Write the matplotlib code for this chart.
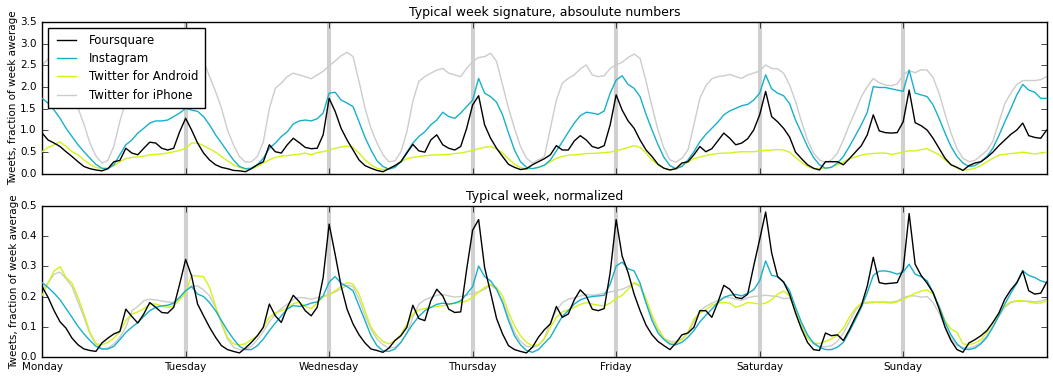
import matplotlib
matplotlib.use("Agg")
import matplotlib.pyplot as plt
import numpy as np

plt.style.use("classic")

days = ["Monday", "Tuesday", "Wednesday", "Thursday", "Friday", "Saturday", "Sunday"]
hours = np.arange(0, 169)

top_foursquare = [
    0.94,0.78,0.71,0.63,0.51,0.40,0.28,0.17,0.12,0.09,0.07,0.12,0.28,0.31,0.59,0.48,0.44,0.59,0.73,0.71,0.59,0.55,0.59,0.97,
    1.28,1.01,0.71,0.48,0.32,0.21,0.15,0.12,0.08,0.07,0.05,0.12,0.21,0.28,0.67,0.51,0.48,0.67,0.82,0.72,
    0.61,0.58,0.59,0.90,1.74,1.44,1.05,0.78,0.55,0.32,0.19,0.13,0.08,0.05,0.12,0.19,0.28,0.48,0.68,0.53,0.50,0.78,0.90,0.67,0.59,0.55,0.63,1.05,
    1.59,1.80,1.13,0.82,0.59,0.40,0.22,0.15,0.10,0.12,0.21,0.28,
    0.35,0.44,0.65,0.55,0.55,0.76,0.88,0.78,0.63,0.59,0.65,1.13,1.82,1.47,1.22,1.05,0.78,0.55,0.40,0.22,0.13,0.09,0.12,0.25,
    0.28,0.44,0.63,0.51,0.58,0.76,0.94,0.82,0.67,0.71,0.81,1.01,1.36,1.90,1.32,1.20,1.05,
    0.85,0.50,0.35,0.21,0.13,0.09,0.28,0.28,0.28,0.21,0.35,0.50,0.65,0.90,1.36,0.99,0.95,0.94,0.95,1.20,1.93,1.18,1.11,1.01,0.82,
    0.59,0.36,0.21,0.15,0.08,0.19,0.25,0.28,0.38,0.50,0.65,0.78,0.91,1.01,1.17,0.88,0.84,0.82,1.01]
top_instagram = [
    1.74,1.63,1.47,1.28,1.05,0.86,0.67,0.51,0.36,0.22,0.13,0.12,0.21,0.44,0.67,0.78,0.94,1.05,1.17,1.22,1.22,1.24,1.32,1.40,
    1.51,1.47,1.44,1.32,1.13,0.90,0.71,0.51,0.32,0.17,0.12,0.13,0.21,0.36,0.59,0.71,0.86,0.97,1.15,1.22,
    1.24,1.22,1.27,1.40,1.86,1.88,1.70,1.63,1.55,1.20,0.84,0.55,0.30,0.17,0.11,0.15,0.28,0.50,0.71,0.86,0.97,1.13,1.24,1.42,1.32,1.28,1.40,1.55,
    1.70,2.20,1.86,1.78,1.65,1.36,0.94,0.55,0.28,0.15,0.12,0.15,
    0.20,0.32,0.53,0.74,0.96,1.17,1.34,1.42,1.40,1.37,1.45,1.86,2.16,2.26,2.06,1.97,1.78,1.37,1.01,0.67,0.38,0.19,0.12,0.17,
    0.32,0.51,0.74,0.91,1.05,1.19,1.36,1.45,1.51,1.57,1.60,1.70,1.86,2.28,1.96,1.86,1.80,
    1.62,1.24,0.94,0.63,0.38,0.21,0.13,0.15,0.25,0.40,0.63,0.88,1.13,1.42,2.01,1.99,1.99,1.96,1.93,1.90,2.39,1.86,1.82,1.78,1.59,
    1.28,0.94,0.63,0.40,0.25,0.17,0.19,0.28,0.40,0.59,0.88,1.20,1.50,1.82,2.06,1.93,1.88,1.74,1.74]
top_android = [
    0.51,0.61,0.67,0.74,0.63,0.51,0.44,0.32,0.22,0.15,0.12,0.13,0.19,0.28,0.35,0.38,0.39,0.41,0.44,0.45,0.46,0.48,0.51,0.54,
    0.59,0.71,0.71,0.65,0.58,0.50,0.40,0.30,0.21,0.15,0.11,0.12,0.17,0.25,0.32,0.38,0.41,0.42,0.44,0.45,
    0.48,0.44,0.49,0.51,0.55,0.59,0.62,0.64,0.61,0.48,0.32,0.21,0.13,0.10,0.12,0.19,0.28,0.35,0.38,0.40,0.42,0.43,0.44,0.44,0.45,0.47,0.48,0.51,
    0.54,0.58,0.61,0.63,0.58,0.48,0.35,0.22,0.15,0.11,0.12,0.15,
    0.20,0.28,0.36,0.40,0.43,0.44,0.45,0.47,0.47,0.48,0.49,0.50,0.53,0.57,0.61,0.65,0.61,0.48,0.32,0.21,0.13,0.09,0.12,0.19,
    0.27,0.35,0.39,0.42,0.45,0.47,0.48,0.48,0.50,0.51,0.51,0.51,0.53,0.54,0.55,0.56,0.55,
    0.50,0.38,0.27,0.17,0.12,0.12,0.13,0.16,0.21,0.27,0.35,0.39,0.43,0.46,0.47,0.48,0.48,0.45,0.47,0.51,0.53,0.53,0.56,0.58,0.51,
    0.44,0.32,0.21,0.13,0.09,0.10,0.13,0.19,0.28,0.36,0.43,0.45,0.47,0.48,0.50,0.48,0.46,0.48,0.50]
top_iphone = [
    2.50,2.65,2.80,2.75,2.40,1.95,1.52,1.14,0.71,0.41,0.25,0.31,0.64,1.21,1.67,1.95,2.05,2.10,2.15,2.20,2.20,2.25,2.30,2.40,
    2.50,2.62,2.72,2.60,2.24,1.90,1.51,1.01,0.67,0.40,0.27,0.28,0.40,0.74,1.51,1.97,2.09,2.24,2.32,2.28,
    2.24,2.19,2.28,2.36,2.49,2.60,2.72,2.80,2.70,2.13,1.51,1.05,0.71,0.44,0.28,0.30,0.51,0.97,1.67,2.13,2.24,2.32,2.39,2.43,2.32,2.28,2.24,2.43,
    2.59,2.68,2.70,2.78,2.59,2.05,1.51,1.05,0.63,0.36,0.25,0.32,
    0.40,1.05,1.70,2.09,2.20,2.28,2.42,2.51,2.28,2.24,2.26,2.43,2.51,2.57,2.68,2.76,2.66,2.13,1.55,1.01,0.59,0.32,0.27,0.36,
    0.55,1.13,1.74,2.03,2.19,2.24,2.26,2.29,2.24,2.20,2.28,2.32,2.37,2.51,2.43,2.42,2.32,
    2.05,1.67,1.20,0.78,0.48,0.32,0.26,0.32,0.48,0.78,1.13,1.44,1.78,2.01,2.20,2.10,2.05,2.03,2.07,2.28,2.38,2.33,2.40,2.39,2.22,
    1.86,1.38,0.94,0.58,0.36,0.28,0.31,0.42,0.54,0.75,1.19,1.62,1.86,2.06,2.15,2.15,2.15,2.17,2.24]

bot_foursquare = [
    0.233,0.197,0.153,0.116,0.095,0.062,0.040,0.026,0.021,0.018,0.046,0.062,0.076,0.084,0.158,0.134,0.112,0.142,0.180,0.164,0.147,0.145,0.164,0.241,
    0.323,0.268,0.175,0.136,0.098,0.065,0.037,0.024,0.018,0.013,0.029,0.048,0.070,0.098,0.175,0.136,0.114,0.164,0.204,0.183,
    0.153,0.136,0.164,0.263,0.440,0.340,0.235,0.158,0.109,0.073,0.046,0.026,0.021,0.015,0.029,0.054,0.070,0.098,0.171,0.127,0.120,0.186,0.224,0.202,0.158,0.147,0.149,0.290,
    0.420,0.455,0.296,0.213,0.127,0.076,0.037,0.024,0.018,0.013,0.032,0.065,
    0.090,0.109,0.167,0.131,0.142,0.189,0.222,0.202,0.158,0.153,0.160,0.279,0.455,0.334,0.279,0.208,0.153,0.105,0.073,0.051,0.037,0.024,0.046,0.073,
    0.079,0.098,0.153,0.153,0.131,0.180,0.237,0.224,0.197,0.193,0.208,0.301,0.389,0.480,0.345,0.266,0.248,
    0.207,0.145,0.092,0.048,0.024,0.021,0.079,0.070,0.073,0.054,0.090,0.131,0.169,0.235,0.330,0.246,0.242,0.244,0.246,0.290,0.475,0.307,0.270,0.244,0.213,
    0.160,0.098,0.054,0.024,0.015,0.046,0.057,0.070,0.087,0.114,0.145,0.191,0.222,0.246,0.285,0.219,0.208,0.211,0.248]
bot_instagram = [
    0.246,0.230,0.211,0.189,0.160,0.131,0.101,0.076,0.054,0.035,0.026,0.026,0.035,0.057,0.081,0.098,0.114,0.134,0.153,0.164,0.169,0.171,0.178,0.197,
    0.219,0.233,0.208,0.200,0.180,0.153,0.120,0.087,0.059,0.035,0.024,0.024,0.037,0.059,0.087,0.112,0.136,0.158,0.170,0.167,
    0.171,0.178,0.182,0.202,0.248,0.266,0.244,0.233,0.219,0.169,0.120,0.070,0.037,0.020,0.018,0.026,0.048,0.079,0.109,0.134,0.153,0.164,0.174,0.178,0.175,0.178,0.186,0.208,
    0.233,0.301,0.266,0.252,0.224,0.180,0.120,0.070,0.040,0.021,0.015,0.024,
    0.045,0.065,0.101,0.134,0.153,0.175,0.189,0.196,0.200,0.202,0.204,0.241,0.301,0.314,0.292,0.285,0.244,0.178,0.120,0.079,0.057,0.042,0.040,0.048,
    0.065,0.087,0.116,0.138,0.158,0.180,0.197,0.204,0.207,0.202,0.211,0.222,0.252,0.318,0.270,0.266,0.248,
    0.220,0.164,0.114,0.073,0.046,0.032,0.024,0.024,0.032,0.048,0.084,0.123,0.164,0.213,0.270,0.284,0.285,0.281,0.274,0.281,0.307,0.274,0.266,0.252,0.213,
    0.167,0.114,0.073,0.043,0.026,0.024,0.029,0.043,0.065,0.098,0.136,0.175,0.211,0.244,0.285,0.270,0.263,0.252,0.246]
bot_android = [
    0.204,0.244,0.285,0.299,0.263,0.244,0.197,0.142,0.081,0.043,0.040,0.048,0.062,0.084,0.120,0.142,0.149,0.160,0.174,0.175,0.169,0.164,0.169,0.189,
    0.211,0.270,0.268,0.266,0.230,0.169,0.114,0.065,0.043,0.040,0.043,0.057,0.070,0.098,0.131,0.145,0.153,0.160,0.177,0.181,
    0.167,0.160,0.178,0.200,0.204,0.219,0.233,0.246,0.241,0.208,0.153,0.098,0.070,0.051,0.043,0.054,0.073,0.109,0.142,0.156,0.160,0.164,0.167,0.169,0.174,0.178,0.180,0.185,
    0.197,0.215,0.230,0.240,0.230,0.202,0.147,0.103,0.070,0.048,0.037,0.040,
    0.060,0.098,0.131,0.149,0.156,0.164,0.174,0.180,0.175,0.171,0.169,0.178,0.193,0.204,0.224,0.246,0.237,0.193,0.138,0.095,0.062,0.045,0.046,0.057,
    0.081,0.125,0.145,0.156,0.171,0.178,0.180,0.178,0.164,0.171,0.180,0.178,0.175,0.178,0.189,0.208,0.218,
    0.202,0.153,0.098,0.062,0.046,0.044,0.051,0.059,0.073,0.095,0.131,0.160,0.178,0.178,0.180,0.182,0.180,0.178,0.182,0.191,0.200,0.211,0.218,0.222,0.208,
    0.169,0.120,0.092,0.081,0.043,0.040,0.046,0.057,0.081,0.112,0.145,0.169,0.182,0.186,0.186,0.182,0.178,0.178,0.186]
bot_iphone = [
    0.222,0.246,0.274,0.281,0.259,0.233,0.182,0.131,0.076,0.043,0.026,0.029,0.043,0.065,0.098,0.153,0.167,0.186,0.191,0.189,0.185,0.182,0.180,0.197,
    0.222,0.235,0.235,0.222,0.202,0.164,0.109,0.059,0.032,0.024,0.024,0.035,0.057,0.084,0.116,0.142,0.160,0.174,0.190,0.197,
    0.195,0.191,0.196,0.200,0.209,0.215,0.226,0.237,0.233,0.191,0.136,0.092,0.059,0.040,0.029,0.032,0.048,0.079,0.131,0.175,0.189,0.197,0.204,0.207,0.202,0.198,0.200,0.204,
    0.211,0.215,0.224,0.237,0.224,0.186,0.131,0.081,0.051,0.035,0.031,0.037,
    0.062,0.114,0.153,0.180,0.191,0.196,0.202,0.207,0.204,0.207,0.211,0.215,0.220,0.224,0.233,0.244,0.233,0.182,0.131,0.087,0.062,0.051,0.051,0.059,
    0.079,0.116,0.153,0.167,0.178,0.186,0.196,0.197,0.191,0.187,0.196,0.200,0.202,0.204,0.202,0.200,0.193,
    0.195,0.158,0.105,0.065,0.043,0.035,0.033,0.037,0.051,0.079,0.116,0.153,0.175,0.181,0.182,0.180,0.182,0.181,0.185,0.196,0.202,0.202,0.198,0.200,0.180,
    0.145,0.101,0.062,0.037,0.031,0.029,0.035,0.048,0.070,0.101,0.134,0.164,0.180,0.185,0.184,0.185,0.182,0.185,0.191]

names = ["Foursquare", "Instagram", "Twitter for Android", "Twitter for iPhone"]
colors = ["black", "#17b0cc", "#d4f21a", "#cccccc"]
zorders = [5, 4, 3, 2]

fig = plt.figure(figsize=(10.53, 3.78), dpi=100, facecolor="white")
ax1 = fig.add_axes([0.040, 0.540, 0.954, 0.402])
ax2 = fig.add_axes([0.040, 0.056, 0.954, 0.399])

x = hours / 24.0
for ax, series in ((ax1, [top_foursquare, top_instagram, top_android, top_iphone]),
                   (ax2, [bot_foursquare, bot_instagram, bot_android, bot_iphone])):
    ax.set_facecolor("white")
    for d in range(1, 7):
        ax.axvline(d, color="#d0d0d0", lw=3, zorder=1)
    for s, n, c, z in zip(series, names, colors, zorders):
        ax.plot(x, s, color=c, lw=1.0, label=n, zorder=z)
    ax.set_xlim(0, 7)
    ax.set_xticks(range(7))
    ax.tick_params(labelsize=7.5, direction="in")
    ax.set_ylabel("Tweets, fraction of week awerage", fontsize=7.5, labelpad=1)

ax1.set_ylim(0, 3.5)
ax1.set_yticks(np.arange(0, 3.51, 0.5))
ax1.set_xticklabels([])
ax1.set_title("Typical week signature, absoulute numbers", fontsize=9, pad=4)
ax1.legend(loc="upper left", fontsize=8.5, frameon=True, fancybox=False,
           handlelength=2.2, borderpad=0.5, labelspacing=0.45, borderaxespad=0.5)

ax2.set_ylim(0, 0.5)
ax2.set_yticks(np.arange(0, 0.51, 0.1))
ax2.set_xticklabels(days)
ax2.set_title("Typical week, normalized", fontsize=9, pad=4)

fig.savefig("out.png", dpi=100, facecolor="white")
